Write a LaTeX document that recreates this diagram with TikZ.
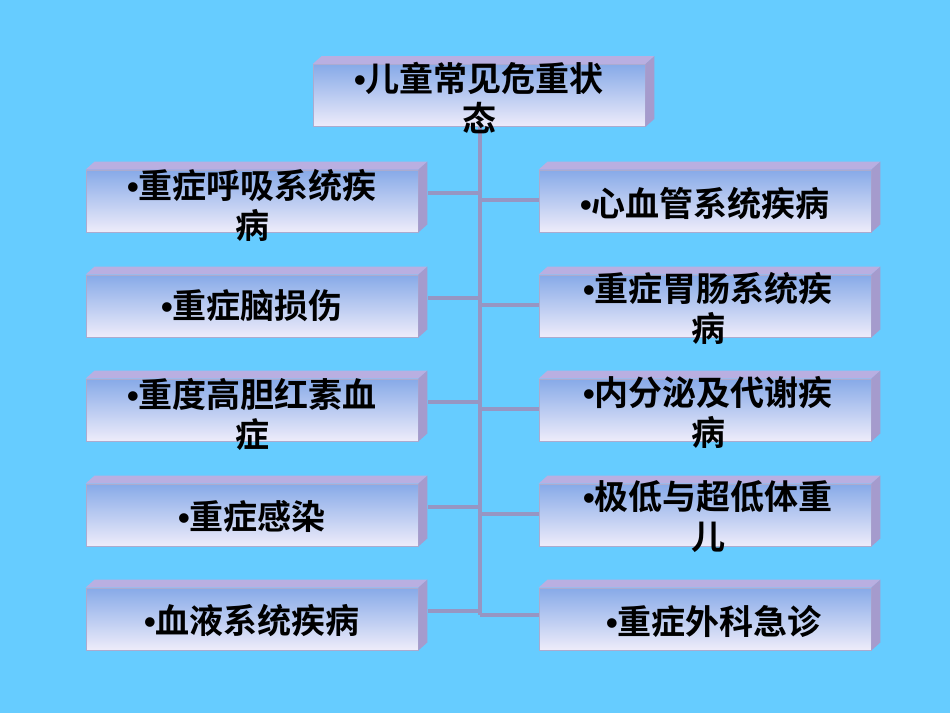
\documentclass[tikz,border=0pt]{standalone}
\usepackage{fontspec}
\newfontfamily\cjk{Noto Sans CJK SC Bold}
\newfontfamily\lsans{Liberation Sans Bold}
\newcommand\bl{{\lsans\fontsize{25}{30}\selectfont•}}
\definecolor{bg}{RGB}{102,204,255}
\definecolor{ln}{RGB}{150,150,195}
\definecolor{ftop}{RGB}{135,170,232}
\definecolor{fbot}{RGB}{238,236,250}
\definecolor{tface}{RGB}{185,175,225}
\definecolor{sface}{RGB}{165,155,205}
\newcommand\tdbox[3]{%
  \node[bx] (#1) at (#2) {};
  \fill[tface] (#1.north west) -- ++(9,-8) -- ([shift={(9,-8)}]#1.north east) -- (#1.north east) -- cycle;
  \fill[sface] (#1.north east) -- ++(9,-8) -- ([shift={(9,-8)}]#1.south east) -- (#1.south east) -- cycle;}
\begin{document}
\begin{tikzpicture}[x=0.75pt,y=-0.75pt,
  bx/.style={draw=ln!80,line width=0.6pt,top color=ftop,bottom color=fbot,minimum width=332*0.75pt,minimum height=62*0.75pt,inner sep=0pt},
  txt/.style={font=\cjk\fontsize{25.5}{30}\selectfont,align=center,inner sep=0pt},
  con/.style={draw=ln,line width=2.5pt}]
\fill[bg] (0,0) rectangle (950,713);
\useasboundingbox (0,0) rectangle (950,713);
\coordinate (sTop) at (480,127);
\coordinate (sBot) at (480,615);
\draw[con] (sTop) -- (sBot);
\foreach \i/\y in {1/193,2/298,3/402,4/507,5/611}{
  \coordinate (lj\i) at (480,\y);
  \coordinate (le\i) at (428,\y);
  \draw[con] (le\i) -- (lj\i);}
\foreach \i/\y in {1/200,2/305,3/409,4/514,5/615}{
  \coordinate (rj\i) at (480,\y);
  \coordinate (re\i) at (540,\y);
  \draw[con] (rj\i) -- (re\i);}
\tdbox{T}{479,95.5}{0}
\node[txt] (Tt) at (479,98) {\bl{}儿童常见危重状\\态};
\tdbox{L1}{252,201}{0}
\node[txt] (L1x) at (252,205) {\bl{}重症呼吸系统疾\\病};
\tdbox{L2}{252,306}{0}
\node[txt] (L2x) at (252,306) {\bl{}重症脑损伤};
\tdbox{L3}{252,410}{0}
\node[txt] (L3x) at (252,414) {\bl{}重度高胆红素血\\症};
\tdbox{L4}{252,515}{0}
\node[txt] (L4x) at (252,517) {\bl{}重症感染};
\tdbox{L5}{252,619}{0}
\node[txt] (L5x) at (252,621) {\bl{}血液系统疾病};
\tdbox{R1}{705,201}{0}
\node[txt] (R1x) at (705,204) {\bl{}心血管系统疾病};
\tdbox{R2}{705,306}{0}
\node[txt] (R2x) at (708,308) {\bl{}重症胃肠系统疾\\病};
\tdbox{R3}{705,410}{0}
\node[txt] (R3x) at (708,412) {\bl{}内分泌及代谢疾\\病};
\tdbox{R4}{705,515}{0}
\node[txt] (R4x) at (708,517) {\bl{}极低与超低体重\\儿};
\tdbox{R5}{705,619}{0}
\node[txt] (R5x) at (714,621) {\bl{}重症外科急诊};
\end{tikzpicture}
\end{document}
